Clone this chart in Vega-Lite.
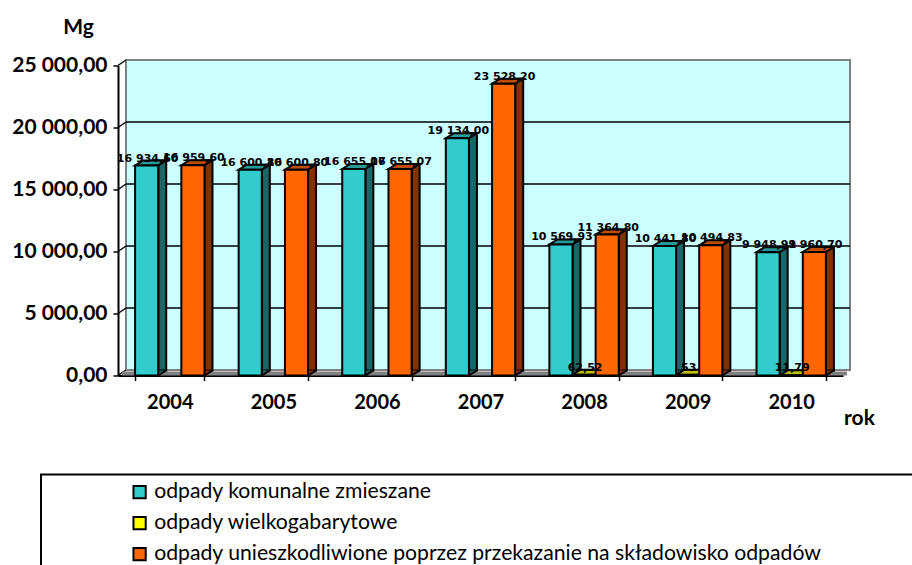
{
"$schema":"https://vega.github.io/schema/vega-lite/v6.json",
"width":725,"height":310,
"autosize":{"type":"none"},
"padding":{"left":118,"top":65.5,"right":69,"bottom":189.5},
"background":"white",
"view":{"stroke":null},
"datasets":{
"bars":[
{"rok":"2004","seria":"odpady komunalne zmieszane","mg":16934.6,"etykieta":"16 934,60"},
{"rok":"2004","seria":"odpady wielkogabarytowe","mg":0,"etykieta":""},
{"rok":"2004","seria":"odpady unieszkodliwione poprzez przekazanie na składowisko odpadów","mg":16959.6,"etykieta":"16 959,60"},
{"rok":"2005","seria":"odpady komunalne zmieszane","mg":16600.8,"etykieta":"16 600,80"},
{"rok":"2005","seria":"odpady wielkogabarytowe","mg":0,"etykieta":""},
{"rok":"2005","seria":"odpady unieszkodliwione poprzez przekazanie na składowisko odpadów","mg":16600.8,"etykieta":"16 600,80"},
{"rok":"2006","seria":"odpady komunalne zmieszane","mg":16655.07,"etykieta":"16 655,07"},
{"rok":"2006","seria":"odpady wielkogabarytowe","mg":0,"etykieta":""},
{"rok":"2006","seria":"odpady unieszkodliwione poprzez przekazanie na składowisko odpadów","mg":16655.07,"etykieta":"16 655,07"},
{"rok":"2007","seria":"odpady komunalne zmieszane","mg":19134.0,"etykieta":"19 134,00"},
{"rok":"2007","seria":"odpady wielkogabarytowe","mg":0,"etykieta":""},
{"rok":"2007","seria":"odpady unieszkodliwione poprzez przekazanie na składowisko odpadów","mg":23528.2,"etykieta":"23 528,20"},
{"rok":"2008","seria":"odpady komunalne zmieszane","mg":10569.93,"etykieta":"10 569,93"},
{"rok":"2008","seria":"odpady wielkogabarytowe","mg":62.52,"etykieta":"62,52"},
{"rok":"2008","seria":"odpady unieszkodliwione poprzez przekazanie na składowisko odpadów","mg":11364.8,"etykieta":"11 364,80"},
{"rok":"2009","seria":"odpady komunalne zmieszane","mg":10441.8,"etykieta":"10 441,80"},
{"rok":"2009","seria":"odpady wielkogabarytowe","mg":53,"etykieta":"53"},
{"rok":"2009","seria":"odpady unieszkodliwione poprzez przekazanie na składowisko odpadów","mg":10494.83,"etykieta":"10 494,83"},
{"rok":"2010","seria":"odpady komunalne zmieszane","mg":9948.91,"etykieta":"9 948,91"},
{"rok":"2010","seria":"odpady wielkogabarytowe","mg":11.79,"etykieta":"11,79"},
{"rok":"2010","seria":"odpady unieszkodliwione poprzez przekazanie na składowisko odpadów","mg":9960.7,"etykieta":"9 960,70"}
],
"siatka":[{"v":0},{"v":5000},{"v":10000},{"v":15000},{"v":20000},{"v":25000}],
"sciana":[{"a":0,"b":1,"d":0,"g":25000}]
},
"layer":[
{
"data":{"name":"sciana"},
"layer":[
{"mark":{"type":"rect","fill":"#CCFFFF","stroke":"#808080","strokeWidth":2,"xOffset":8,"x2Offset":7,"yOffset":-5.5,"y2Offset":-5.5},
 "encoding":{"x":{"field":"a","type":"quantitative","scale":{"domain":[0,1]},"axis":null},"x2":{"field":"b"},"y":{"field":"g","type":"quantitative","scale":{"domain":[0,25000],"nice":false}},"y2":{"field":"d"}}},
{"data":{"name":"siatka"},"mark":{"type":"rule","color":"#000000","strokeWidth":1.5,"xOffset":8,"x2Offset":7,"yOffset":-5.5,"y2Offset":-5.5},
 "transform":[{"filter":"datum.v>0 && datum.v<25000"},{"calculate":"0","as":"a"},{"calculate":"1","as":"b"}],
 "encoding":{"x":{"field":"a","type":"quantitative","axis":null},"x2":{"field":"b"},"y":{"field":"v","type":"quantitative"},"y2":{"field":"v"}}},
{"data":{"name":"siatka"},"mark":{"type":"rule","color":"#000000","strokeWidth":1.5,"xOffset":0,"x2Offset":8,"yOffset":0,"y2Offset":-5.5},
 "transform":[{"calculate":"0","as":"a"}],
 "encoding":{"x":{"field":"a","type":"quantitative","axis":null},"x2":{"field":"a"},"y":{"field":"v","type":"quantitative"},"y2":{"field":"v"}}},
{"mark":{"type":"rect","fill":"#808080","xOffset":4,"x2Offset":4,"yOffset":-4,"y2Offset":0},
 "encoding":{"x":{"field":"a","type":"quantitative","axis":null},"x2":{"field":"b"},"y":{"field":"d","type":"quantitative"},"y2":{"field":"d"}}},
{"mark":{"type":"rect","fill":"transparent","stroke":"#000000","strokeWidth":2,"xOffset":-77,"x2Offset":120,"yOffset":99,"y2Offset":230},
 "encoding":{"x":{"field":"a","type":"quantitative","axis":null},"x2":{"field":"b"},"y":{"field":"d","type":"quantitative"},"y2":{"field":"d"}}}
]
},
{
"data":{"name":"bars"},
"transform":[
{"filter":"datum.mg>0"},
{"calculate":"toNumber(datum.rok)-2004+0.165+0.22333*(indexof(['odpady komunalne zmieszane','odpady wielkogabarytowe'],datum.seria)<0?3:indexof(['odpady komunalne zmieszane','odpady wielkogabarytowe'],datum.seria)+1)","as":"pos"}
],
"encoding":{
 "x":{"field":"pos","type":"quantitative","scale":{"domain":[0,7]},"axis":null},
 "fill":{"field":"seria","type":"nominal","legend":null,"scale":{"domain":["odpady komunalne zmieszane","odpady wielkogabarytowe","odpady unieszkodliwione poprzez przekazanie na składowisko odpadów"],"range":["#1A6666","#808000","#7F3300"]}}
},
"layer":[
{"mark":{"type":"rect","stroke":"#000000","strokeWidth":2,"x2Offset":8,"yOffset":-5,"y2Offset":-5},
 "encoding":{"x2":{"field":"pos"},"y":{"field":"mg","type":"quantitative"},"y2":{"datum":0}}},
{"mark":{"type":"point","filled":true,"opacity":1,"size":4,"shape":"M0,0L8,-5L0,-5Z","stroke":null},
 "encoding":{"y":{"datum":0,"type":"quantitative"}}},
{"mark":{"type":"rule","color":"#000000","strokeWidth":2,"x2Offset":8,"y2Offset":-5},
 "encoding":{"fill":{"value":null},"x2":{"field":"pos"},"y":{"datum":0,"type":"quantitative"},"y2":{"datum":0}}}
]
},
{
"data":{"name":"bars"},
"resolve":{"scale":{"fill":"independent"}},
"encoding":{
 "x":{"field":"rok","type":"ordinal","scale":{"paddingInner":0.33,"paddingOuter":0.165},
  "axis":{"title":"rok","titleFont":"Lato","titleFontSize":21,"titleFontWeight":"bold","titleX":741,"titleY":32,"titleColor":"#000000","labelFont":"Lato","labelFontSize":20,"labelFontWeight":"bold","labelColor":"#000000","labelAngle":0,"labelPadding":12,"domainColor":"#000000","domainWidth":2,"tickColor":"#000000","tickWidth":1.5,"tickSize":5,"tickBand":"extent"}},
 "xOffset":{"field":"seria","type":"nominal","sort":null,"scale":{"domain":["odpady komunalne zmieszane","odpady wielkogabarytowe","odpady unieszkodliwione poprzez przekazanie na składowisko odpadów"]}},
 "y":{"field":"mg","type":"quantitative",
  "axis":{"title":"Mg","titleFont":"Lato","titleFontSize":21,"titleFontWeight":"bold","titleAngle":0,"titleAlign":"center","titleX":-40,"titleY":-28,"titleColor":"#000000","labelFont":"Lato","labelFontSize":21,"labelFontWeight":"bold","labelColor":"#000000","labelPadding":6,"values":[0,5000,10000,15000,20000,25000],"labelExpr":"replace(replace(format(datum.value,',.2f'),',',' '),'.',',')","grid":false,"domainColor":"#000000","domainWidth":2,"tickColor":"#000000","tickWidth":1.5,"tickSize":5}}
},
"layer":[
{"transform":[{"filter":"datum.mg>0"}],
 "mark":{"type":"point","filled":true,"size":4,"opacity":1,"shape":"M-11.5,0L11.5,0L19.5,-5L-3.5,-5Z","stroke":"#000000","strokeWidth":2},
 "encoding":{"fill":{"field":"seria","type":"nominal","legend":null,"scale":{"domain":["odpady komunalne zmieszane","odpady wielkogabarytowe","odpady unieszkodliwione poprzez przekazanie na składowisko odpadów"],"range":["#289999","#BFBF00","#BF4C00"]}}}},
{"transform":[{"filter":"datum.mg>0"}],
 "mark":{"type":"bar","stroke":"#000000","strokeWidth":2},
 "encoding":{"y2":{"datum":0},"color":{"field":"seria","type":"nominal","scale":{"domain":["odpady komunalne zmieszane","odpady wielkogabarytowe","odpady unieszkodliwione poprzez przekazanie na składowisko odpadów"],"range":["#33CCCC","#FFFF00","#FF6600"]},
  "legend":{"title":null,"orient":"none","legendX":11,"legendY":416,"symbolType":"square","symbolSize":150,"symbolStrokeColor":"#000000","symbolStrokeWidth":2,"symbolOpacity":1,"labelFont":"Lato","labelFontSize":21.2,"labelColor":"#000000","labelLimit":760,"rowPadding":9,"values":["odpady komunalne zmieszane","odpady wielkogabarytowe","odpady unieszkodliwione poprzez przekazanie na składowisko odpadów"]}}}},
{"transform":[{"filter":"datum.etykieta!=''"}],
 "mark":{"type":"text","font":"DejaVu Sans","fontSize":11,"fontWeight":"bold","color":"#000000","dx":1,"dy":-7},
 "encoding":{"text":{"field":"etykieta"}}}
]
}
],
"resolve":{"scale":{"x":"independent","fill":"independent"}}
}
